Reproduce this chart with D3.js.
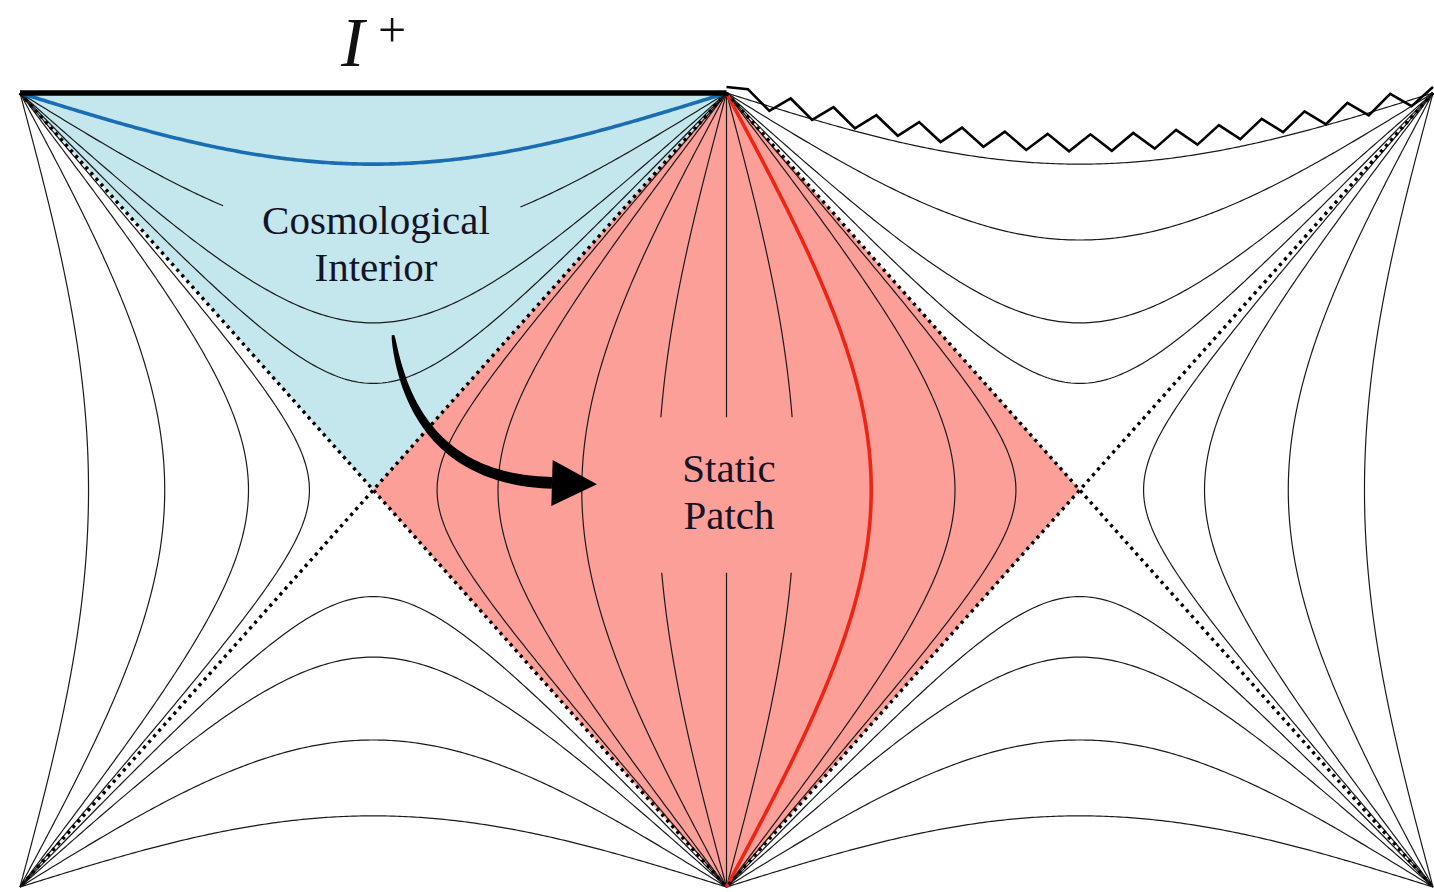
<!DOCTYPE html>
<html>
<head>
<meta charset="utf-8">
<script src="https://cdn.jsdelivr.net/npm/d3@7"></script>
<style>
  html, body { margin: 0; padding: 0; background: #ffffff; }
  svg { display: block; }
</style>
</head>
<body>
<svg></svg>
<script>
/* jshint esversion: 6 */

//--Data (radii in units of the de Sitter radius)
const staticRadii = [0, 0.3, 0.6, 0.85, 0.96];   // timelike slices, r < 1
const cosmoRadii = [1.096, 1.267, 1.82, 3.6];    // spacelike slices, r > 1
const redRadius = 0.6;          // highlighted worldline, right half of static patch
const blueRadius = 3.6;         // highlighted slice in the cosmological interior
const singularityRadius = 5.1;  // baseline of the zigzag
const zigzagVertices = 33;
const cosmoLabel = ["Cosmological", "Interior"];
const staticLabel = ["Static", "Patch"];
const scriLabel = ["I", "+"];
// arrow control points in (theta, T)
const arrowPoints = [[-1.483, 0.613], [-1.430, 0.277], [-1.229, 0.040], [-0.776, 0.028]];

//Shared info
const canvas = {
  width: 1434,
  height: 892,
  blueFill: "#c3e7ed",
  redFill: "#fd9f99",
  blueLine: "#1a6db3",
  redLine: "#ec2515",
  ink: "#1a1a1a"
};

const PI = Math.PI;
const x = d3.scaleLinear().domain([-PI, PI]).range([20, 1433]);
const y = d3.scaleLinear().domain([-PI / 2, PI / 2]).range([887, 93]);

const root = d3.select("svg")
  .attr("width", canvas.width)
  .attr("height", canvas.height)
  .style("background-color", "#ffffff");

const line = d3.line()
  .defined(d => !d.gap)
  .x(d => x(d[0]))
  .y(d => y(d[1]));

//--Region fills
const staticPatch = [[0, PI / 2], [PI / 2, 0], [0, -PI / 2], [-PI / 2, 0]];
const interior = [[-PI, PI / 2], [0, PI / 2], [-PI / 2, 0]];
root.append("path")
  .attr("d", line(interior) + "Z")
  .attr("fill", canvas.blueFill);
root.append("path")
  .attr("d", line(staticPatch) + "Z")
  .attr("fill", canvas.redFill);

//--Curves
const N = 240;
const staticGap = [y.invert(570), y.invert(418)];
const cosmoGap = [x.invert(226), x.invert(519)];

function timelike(pole, side, r, withGap) {
  return d3.range(N + 1).map(i => {
    const T = -PI / 2 + i * PI / N;
    const p = [pole + side * Math.asin(r * Math.cos(T)), T];
    p.gap = withGap && T > staticGap[0] && T < staticGap[1];
    return p;
  });
}

function spacelike(center, sign, r, withGap) {
  return d3.range(N + 1).map(i => {
    const phi = -PI / 2 + i * PI / N;
    const p = [center + phi, sign * Math.acos(Math.cos(phi) / r)];
    p.gap = withGap && p[0] > cosmoGap[0] && p[0] < cosmoGap[1];
    return p;
  });
}

let curves = [];
staticRadii.forEach(r => {
  const inner = r < 0.5;
  if (r === 0) {
    curves.push({ pts: timelike(0, 1, 0, true) });
  } else {
    curves.push({ pts: timelike(0, -1, r, inner) });
    if (r !== redRadius) curves.push({ pts: timelike(0, 1, r, inner) });
    curves.push({ pts: timelike(-PI, 1, r, false) });
    curves.push({ pts: timelike(PI, -1, r, false) });
  }
});
cosmoRadii.forEach(r => {
  [-PI / 2, PI / 2].forEach(c => {
    [1, -1].forEach(s => {
      if (r === blueRadius && c < 0 && s > 0) return;
      curves.push({ pts: spacelike(c, s, r, r === 1.82 && c < 0 && s > 0) });
    });
  });
});

root.append("g")
  .classed("slices", true)
  .attr("fill", "none")
  .attr("stroke", canvas.ink)
  .attr("stroke-width", 1.2)
  .selectAll("path")
  .data(curves)
  .enter()
  .append("path")
  .attr("d", d => line(d.pts));

//Highlighted curves
root.append("path")
  .attr("d", line(timelike(0, 1, redRadius, false)))
  .attr("fill", "none")
  .attr("stroke", canvas.redLine)
  .attr("stroke-width", 3.6);
root.append("path")
  .attr("d", line(spacelike(-PI / 2, 1, blueRadius, false)))
  .attr("fill", "none")
  .attr("stroke", canvas.blueLine)
  .attr("stroke-width", 3.6);

//--Horizons (dotted)
const horizons = [
  [[-PI, PI / 2], [0, -PI / 2]],
  [[0, PI / 2], [-PI, -PI / 2]],
  [[0, PI / 2], [PI, -PI / 2]],
  [[PI, PI / 2], [0, -PI / 2]]
];
root.append("g")
  .selectAll("path")
  .data(horizons)
  .enter()
  .append("path")
  .attr("d", d => line(d))
  .attr("fill", "none")
  .attr("stroke", "#000")
  .attr("stroke-width", 3.4)
  .attr("stroke-dasharray", "3.2,4.4");

//--Future infinity (thick line, left) and singularity (zigzag, right)
root.append("path")
  .attr("d", line([[-PI, PI / 2], [0, PI / 2]]))
  .attr("stroke", "#000")
  .attr("stroke-width", 5.5);

const zig = d3.range(zigzagVertices + 1).map(i => {
  const phi = -PI / 2 + i * PI / zigzagVertices;
  const T = Math.acos(Math.cos(phi) / singularityRadius);
  const off = (i === 0 || i === zigzagVertices) ? -6 : (i % 2 ? -8.5 : 8.5);
  return [x(PI / 2 + phi), y(T) + off];
});
root.append("path")
  .attr("d", d3.line()(zig))
  .attr("fill", "none")
  .attr("stroke", "#000")
  .attr("stroke-width", 2.6)
  .attr("stroke-linejoin", "miter");

//--Arrow (tapered shaft + head)
const P = arrowPoints.map(d => [x(d[0]), y(d[1])]);
function bez(t) {
  const u = 1 - t;
  return [0, 1].map(k => u * u * u * P[0][k] + 3 * u * u * t * P[1][k] + 3 * u * t * t * P[2][k] + t * t * t * P[3][k]);
}
function bezD(t) {
  const u = 1 - t;
  return [0, 1].map(k => 3 * u * u * (P[1][k] - P[0][k]) + 6 * u * t * (P[2][k] - P[1][k]) + 3 * t * t * (P[3][k] - P[2][k]));
}
const leftSide = [], rightSide = [];
d3.range(61).forEach(i => {
  const t = i / 60;
  const p = bez(t), d = bezD(t);
  const len = Math.hypot(d[0], d[1]);
  const n = [-d[1] / len, d[0] / len];
  const hw = 1.3 + 4.6 * Math.sqrt(t);
  leftSide.push([p[0] + n[0] * hw, p[1] + n[1] * hw]);
  rightSide.push([p[0] - n[0] * hw, p[1] - n[1] * hw]);
});
root.append("path")
  .attr("d", d3.line()(leftSide.concat(rightSide.reverse())) + "Z")
  .attr("fill", "#000");
const dEnd = bezD(1), lEnd = Math.hypot(dEnd[0], dEnd[1]);
const dir = [dEnd[0] / lEnd, dEnd[1] / lEnd], nor = [-dir[1], dir[0]];
const base = P[3];
const head = [
  [base[0] + dir[0] * 45, base[1] + dir[1] * 45],
  [base[0] + nor[0] * 23, base[1] + nor[1] * 23],
  [base[0] - nor[0] * 23, base[1] - nor[1] * 23]
];
root.append("path")
  .attr("d", d3.line()(head) + "Z")
  .attr("fill", "#000");

//--Labels
function addLabel(lines, cx, y0, dy) {
  root.append("g")
    .selectAll("text")
    .data(lines)
    .enter()
    .append("text")
    .attr("x", cx)
    .attr("y", (d, i) => y0 + i * dy)
    .attr("text-anchor", "middle")
    .style("font-family", "'Liberation Serif', 'Times New Roman', Times, serif")
    .style("font-size", "41px")
    .style("fill", "#141428")
    .text(d => d);
}
addLabel(cosmoLabel, 376, 234, 47);
addLabel(staticLabel, 729, 482, 47);

root.append("text")
  .attr("x", 341)
  .attr("y", 66)
  .style("font-family", "'Liberation Serif', Times, serif")
  .style("font-style", "italic")
  .style("font-size", "70px")
  .style("fill", "#111")
  .text(scriLabel[0]);
root.append("text")
  .attr("x", 378)
  .attr("y", 47)
  .style("font-family", "'Liberation Serif', Times, serif")
  .style("font-size", "50px")
  .style("fill", "#111")
  .text(scriLabel[1]);
</script>
</body>
</html>
